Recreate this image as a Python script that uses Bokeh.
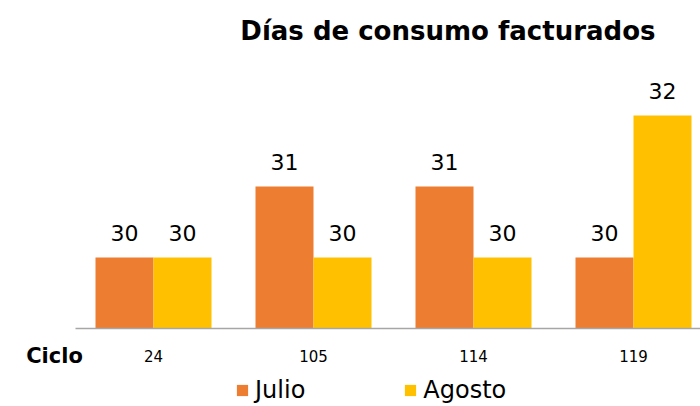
from bokeh.plotting import figure
from bokeh.models import (ColumnDataSource, Range1d, FixedTicker, Label, Legend, LegendItem)
from bokeh.embed import file_html
from bokeh.resources import INLINE
from bokeh.core.properties import value

ciclos = ["24", "105", "114", "119"]
julio = [30, 31, 31, 30]
agosto = [30, 30, 30, 32]
series_names = ["Julio", "Agosto"]
colors = ["#ED7D31", "#FFC000"]
title_text = "Días de consumo facturados"
axis_title = "Ciclo"

FONT = "DejaVu Sans"
bar_w = 0.3625
base = 29
idx = list(range(len(ciclos)))

p = figure(width=700, height=404, output_backend="svg", toolbar_location=None,
           x_range=Range1d(-0.95625, 3.41875), y_range=Range1d(27.93, 33.62),
           min_border_left=0, min_border_right=0, min_border_top=0, min_border_bottom=0)
p.outline_line_color = None
p.grid.visible = False
p.yaxis.visible = False

renderers = []
for k, (vals, name, col) in enumerate(zip([julio, agosto], series_names, colors)):
    xs = [i + (k - 0.5) * bar_w for i in idx]
    src = ColumnDataSource(dict(x=xs, top=vals, lab=[str(v) for v in vals]))
    r = p.vbar(x="x", top="top", bottom=base, width=bar_w, source=src,
               fill_color=col, line_color=None)
    renderers.append((name, r))
    p.text(x="x", y="top", text="lab", source=src, text_align="center",
           text_baseline="bottom", y_offset=-17, text_font=value(FONT),
           text_font_size="22px", text_color="#000000")

xa = p.xaxis[0]
xa.fixed_location = base
xa.bounds = (-0.4875, 3.41875)
xa.ticker = FixedTicker(ticks=idx)
xa.major_label_overrides = {i: c for i, c in zip(idx, ciclos)}
xa.major_tick_line_color = None
xa.minor_tick_line_color = None
xa.axis_line_color = "#A6A6A6"
xa.axis_line_width = 1.5
xa.major_label_standoff = 15
xa.major_label_text_font = FONT
xa.major_label_text_font_size = "15px"
xa.major_label_text_color = "#000000"

p.add_layout(Label(x=-0.4875, y=base, x_offset=-21, y_offset=-27, text=axis_title,
                   text_align="center", text_baseline="middle", text_font=FONT,
                   text_font_size="21px", text_font_style="bold", text_color="#000000"))

p.add_layout(Label(x=1.84, y=33.62, y_offset=-30, text=title_text,
                   text_align="center", text_baseline="middle", text_font=FONT,
                   text_font_size="26px", text_font_style="bold", text_color="#000000"))

legend = Legend(items=[LegendItem(label=n, renderers=[r]) for n, r in renderers],
                orientation="horizontal", location=(235, 0),
                glyph_width=14, glyph_height=14, spacing=98,
                label_text_font=FONT, label_text_font_size="24px",
                label_text_color="#000000",
                border_line_color=None, background_fill_alpha=0,
                padding=0, margin=0, label_standoff=6)
p.add_layout(legend, "center")

open("out.html", "w").write(file_html(p, INLINE))
